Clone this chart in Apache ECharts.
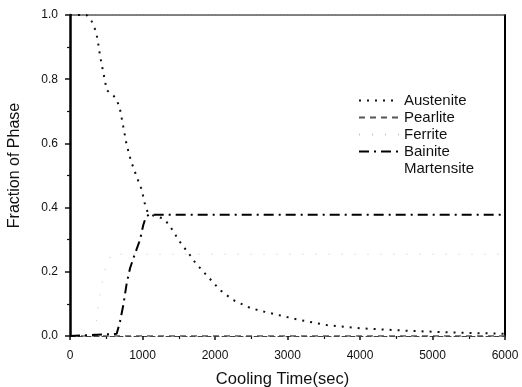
<!DOCTYPE html>
<html>
<head>
<meta charset="utf-8">
<script src="https://cdn.jsdelivr.net/npm/echarts@6/dist/echarts.min.js"></script>
<style>
	html, body { margin: 0; padding: 0; background: #fff; }
	#main { width: 522px; height: 387px; }
</style>
</head>
<body>
<div id="main"></div>
<script>
// 数据
const austeniteTime = [0, 230, 300, 350, 380, 415, 460, 485, 505, 600, 650, 690, 735, 780, 840, 920, 990, 1044, 1080, 1150, 1287, 1370, 1434, 1494, 1554, 1623, 1692, 1756, 1910, 2070, 2250, 2480, 2620, 2900, 3170, 3540, 4000, 4690, 5380, 5830, 6000];
const austeniteVal = [1.0, 1.0, 0.98, 0.953, 0.925, 0.872, 0.82, 0.792, 0.766, 0.749, 0.733, 0.706, 0.652, 0.597, 0.546, 0.496, 0.455, 0.4, 0.382, 0.375, 0.366, 0.346, 0.322, 0.301, 0.28, 0.263, 0.239, 0.221, 0.183, 0.143, 0.112, 0.088, 0.079, 0.064, 0.05, 0.034, 0.024, 0.016, 0.01, 0.008, 0.007];

const pearliteTime = [0, 6000];
const pearliteVal = [0, 0];

const ferriteTime = [0, 330, 368, 391, 414, 437, 492, 575, 6000];
const ferriteVal = [0, 0, 0.055, 0.091, 0.133, 0.159, 0.216, 0.255, 0.255];

const bainiteTime = [0, 644, 690, 736, 782, 828, 874, 966, 1011, 1048, 1094, 6000];
const bainiteVal = [0, 0.007, 0.045, 0.097, 0.164, 0.211, 0.242, 0.300, 0.346, 0.372, 0.378, 0.378];

const martensiteTime = [0, 6000];
const martensiteVal = [0, 0];

const xTicks = [0, 1000, 2000, 3000, 4000, 5000, 6000];
const yTicks = [0, 0.2, 0.4, 0.6, 0.8, 1.0];

function pairs(t, v){
	return t.map(function(x, i){ return [x, v[i]]; });
}

const myChart = echarts.init(document.getElementById('main'));
const font = 'Liberation Sans, Arial, sans-serif';

const option = {
	animation: false,
	backgroundColor: '#fff',
	grid: { left: 70, right: 17, top: 15, bottom: 51, containLabel: false, outerBoundsMode: 'none' },
	legend: {
		orient: 'vertical',
		left: 353,
		top: 88,
		itemWidth: 40,
		itemHeight: 12,
		itemGap: 2,
		itemStyle: { opacity: 0 },
		textStyle: { fontFamily: font, fontSize: 15, lineHeight: 15, color: '#111' },
		data: ['Austenite', 'Pearlite', 'Ferrite', 'Bainite', 'Martensite']
	},
	xAxis: [{
		type: 'value',
		min: xTicks[0],
		max: xTicks[xTicks.length - 1],
		interval: 1000,
		name: 'Cooling Time(sec)',
		nameLocation: 'middle',
		nameGap: 35,
		nameTextStyle: { fontFamily: font, fontSize: 16.5, color: '#111', padding: [0, 10, 0, 0] },
		axisLine: { show: true, onZero: false, lineStyle: { color: '#444', width: 1, type: [5, 3] } },
		axisTick: { show: true, length: 4, lineStyle: { color: '#111', width: 1.5 } },
		minorTick: { show: true, splitNumber: 2, length: 3, lineStyle: { color: '#111', width: 1.2 } },
		axisLabel: {
			margin: 14, fontFamily: font, fontSize: 12, color: '#111',
			formatter: function (v) { return String(v); }
		},
		splitLine: { show: false }
	}, {
		type: 'value',
		position: 'top',
		min: 0,
		max: 6000,
		axisLine: { show: true, onZero: false, lineStyle: { color: '#555', width: 1.5, type: [2, 1] } },
		axisTick: { show: false },
		axisLabel: { show: false },
		splitLine: { show: false }
	}],
	yAxis: [{
		type: 'value',
		min: yTicks[0],
		max: yTicks[yTicks.length - 1],
		interval: 0.2,
		name: 'Fraction of Phase',
		nameLocation: 'middle',
		nameGap: 47,
		nameTextStyle: { fontFamily: font, fontSize: 16, color: '#111', padding: [0, 0, 0, 20] },
		axisLine: { show: true, onZero: false, lineStyle: { color: '#000', width: 2.5 } },
		axisTick: { show: true, length: 5, lineStyle: { color: '#111', width: 1.5 } },
		minorTick: { show: true, splitNumber: 2, length: 3, lineStyle: { color: '#111', width: 1.2 } },
		axisLabel: {
			margin: 12, fontFamily: font, fontSize: 12, color: '#111',
			formatter: function (v) { return v.toFixed(1); }
		},
		splitLine: { show: false }
	}, {
		type: 'value',
		position: 'right',
		min: 0,
		max: 1,
		axisLine: { show: true, onZero: false, lineStyle: { color: '#000', width: 2 } },
		axisTick: { show: false },
		axisLabel: { show: false },
		splitLine: { show: false }
	}],
	series: [{
		name: 'Austenite',
		type: 'line',
		symbol: 'none',
		data: pairs(austeniteTime, austeniteVal),
		lineStyle: { color: '#111', width: 2, type: [2, 6] },
		itemStyle: { color: '#111' }
	}, {
		name: 'Pearlite',
		type: 'line',
		symbol: 'none',
		data: pairs(pearliteTime, pearliteVal),
		lineStyle: { color: '#555', width: 1.5, type: [6, 5] },
		itemStyle: { color: '#555' }
	}, {
		name: 'Ferrite',
		type: 'line',
		symbol: 'none',
		data: pairs(ferriteTime, ferriteVal),
		lineStyle: { color: '#c4c4c4', width: 1, type: [1, 12] },
		itemStyle: { color: '#c4c4c4' }
	}, {
		name: 'Bainite',
		type: 'line',
		symbol: 'none',
		data: pairs(bainiteTime, bainiteVal),
		lineStyle: { color: '#000', width: 2, type: [10, 5, 2, 5] },
		itemStyle: { color: '#000' }
	}, {
		name: 'Martensite',
		type: 'line',
		symbol: 'none',
		data: pairs(martensiteTime, martensiteVal),
		lineStyle: { color: '#fff', width: 1, opacity: 0 },
		itemStyle: { color: '#fff', opacity: 0 }
	}]
};

myChart.setOption(option);
</script>
</body>
</html>
